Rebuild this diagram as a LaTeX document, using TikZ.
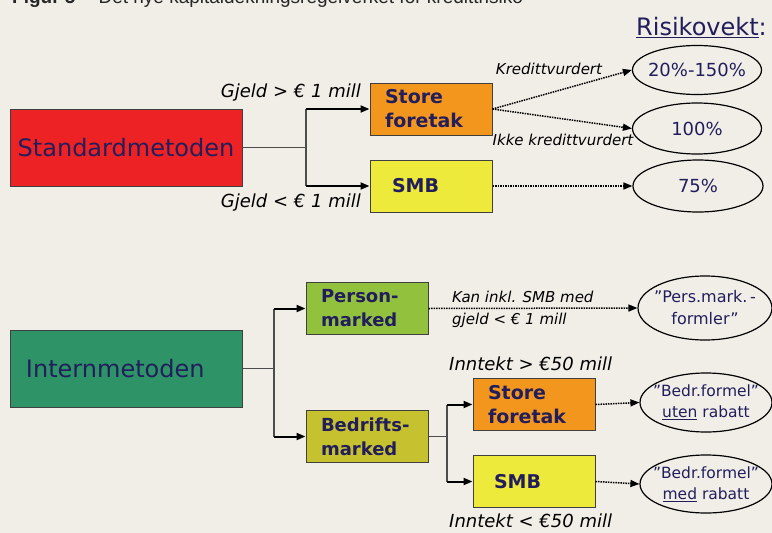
\documentclass[tikz,border=0pt]{standalone}
\usepackage{fontspec}
\setmainfont{DejaVu Sans}
\newfontfamily\capfont{Liberation Sans}
\usetikzlibrary{shapes.geometric,arrows.meta}

\definecolor{bgcol}{RGB}{241,238,232}
\definecolor{navy}{RGB}{34,30,92}
\definecolor{stdred}{RGB}{237,34,36}
\definecolor{orangebox}{RGB}{243,150,30}
\definecolor{yellowbox}{RGB}{238,234,60}
\definecolor{intgreen}{RGB}{46,148,103}
\definecolor{persgreen}{RGB}{146,193,62}
\definecolor{bedrolive}{RGB}{198,193,46}

\begin{document}
\begin{tikzpicture}[x=1pt, y=-1pt,
    method/.style={draw=black!75,line width=1pt,minimum width=232pt,minimum height=77pt,
                   text=navy,font=\fontsize{24}{28}\selectfont},
    sub node/.style={draw=black!75,line width=1pt,minimum width=122pt,minimum height=52pt,
                   inner xsep=15pt,text width=92pt,align=left,text=navy,
                   font=\bfseries\fontsize{19}{24}\selectfont},
    weight node/.style={ellipse,draw,line width=1.2pt,inner sep=0pt},
    weight text/.style={text=navy,align=center,inner sep=0pt,font=\fontsize{18}{22}\selectfont},
    cond text/.style={inner sep=0pt,font=\itshape\fontsize{18}{22}\selectfont},
    thin line/.style={draw=black!70,line width=1.2pt},
    branch arrow/.style={line width=2pt,-{Triangle[length=9pt,width=7pt]}},
    dot arrow/.style={line width=1.5pt,densely dotted,-{Triangle[length=9pt,width=7pt]}}]

  \useasboundingbox[fill=bgcol] (0,0) rectangle (772,533);
  \begin{scope}
    \clip (0,0) rectangle (772,533);
    \node[anchor=base west,inner sep=0pt,text=black!85,font=\capfont\fontsize{19}{22}\selectfont] (cap) at (12,3)
      {\textbf{Figur 5}\hspace{23pt}Det nye kapitaldekningsregelverket for kredittrisiko};
  \end{scope}

  \node[anchor=base west,inner sep=0pt,text=navy,font=\fontsize{24}{28}\selectfont] (rv) at (636,35) {\underline{Risikovekt}:};

  % standardmetoden
  \node[method,fill=stdred] (std) at (126,147.5) {Standardmetoden};
  \node[sub node,fill=orangebox] (sf1) at (431,109) {Store\\foretak};
  \node[sub node,fill=yellowbox,inner xsep=22pt,text width=78pt] (smb1) at (431,186) {SMB};

  \node[weight node,minimum width=129pt,minimum height=49pt,label={[weight text]center:20\%-150\%}] (w1) at (697,70) {};
  \node[weight node,minimum width=129pt,minimum height=51pt,label={[weight text]center:100\%}] (w2) at (697,128.5) {};
  \node[weight node,minimum width=130pt,minimum height=52pt,label={[weight text]center:75\%}] (w3) at (698,186) {};

  \node[cond text,anchor=east] (gh) at (361,93) {Gjeld > € 1 mill};
  \node[cond text,anchor=east] (gl) at (361,203) {Gjeld < € 1 mill};
  \node[cond text,font=\itshape\fontsize{15}{18}\selectfont] (kv) at (549,69) {Kredittvurdert};
  \node[cond text,font=\itshape\fontsize{15}{18}\selectfont] (ikv) at (563,140) {Ikke kredittvurdert};

  \coordinate (sj) at (306,147.5);
  \draw[thin line] (std.east) -- (sj);
  \draw[thin line] (sj |- sf1.west) -- (sj |- smb1.west);
  \draw[branch arrow] (sj |- sf1.west) -- (sf1.west);
  \draw[branch arrow] (sj |- smb1.west) -- (smb1.west);
  \draw[dot arrow] (sf1.east) -- (w1.west);
  \draw[dot arrow] (sf1.east) -- (w2.west);
  \draw[dot arrow] (smb1.east) -- (w3.west);

  % internmetoden
  \node[method,fill=intgreen,text width=200pt,inner xsep=16pt,align=left] (int) at (126,368.5) {Internmetoden};
  \node[sub node,fill=persgreen,font=\bfseries\fontsize{18}{24}\selectfont] (pm) at (367,308.5) {Person-\\marked};
  \node[sub node,fill=bedrolive,font=\bfseries\fontsize{18}{24}\selectfont] (bm) at (367,436.5) {Bedrifts-\\marked};
  \node[sub node,fill=orangebox] (sf2) at (534,404.5) {Store\\foretak};
  \node[sub node,fill=yellowbox,inner xsep=21pt,text width=80pt] (smb2) at (534,481.5) {SMB};

  \node[weight node,minimum width=134pt,minimum height=64pt,
        label={[weight text,font=\fontsize{16}{22}\selectfont]center:{”Pers.mark.\,-\\formler”}}] (wp) at (705,308) {};
  \node[weight node,minimum width=132pt,minimum height=59pt,
        label={[weight text,font=\fontsize{15.5}{21}\selectfont]center:{”Bedr.formel”\\\underline{uten} rabatt}}] (wu) at (706,402.5) {};
  \node[weight node,minimum width=132pt,minimum height=58pt,
        label={[weight text,font=\fontsize{15.5}{21}\selectfont]center:{”Bedr.formel”\\\underline{med} rabatt}}] (wm) at (706,484) {};

  \node[cond text,anchor=west,align=left,font=\itshape\fontsize{15}{22}\selectfont] (kan) at (452,309)
    {Kan inkl. SMB med\\gjeld < € 1 mill};
  \node[cond text,anchor=west] (ih) at (449,364) {Inntekt > €50 mill};
  \node[cond text,anchor=west] (il) at (449,521) {Inntekt < €50 mill};

  \coordinate (ij) at (274,368.5);
  \draw[thin line] (int.east) -- (ij);
  \draw[thin line] (ij |- pm.west) -- (ij |- bm.west);
  \draw[branch arrow] (ij |- pm.west) -- (pm.west);
  \draw[branch arrow] (ij |- bm.west) -- (bm.west);
  \draw[dot arrow] (pm.east) -- (wp.west);

  \coordinate (bj) at (447,436.5);
  \draw[thin line] (bm.east) -- (bj);
  \draw[thin line] (bj |- sf2.west) -- (bj |- smb2.west);
  \draw[branch arrow] (bj |- sf2.west) -- (sf2.west);
  \draw[branch arrow] (bj |- smb2.west) -- (smb2.west);
  \draw[dot arrow] (sf2.east) -- (wu.west);
  \draw[dot arrow] (smb2.east) -- (wm.west);
\end{tikzpicture}
\end{document}
